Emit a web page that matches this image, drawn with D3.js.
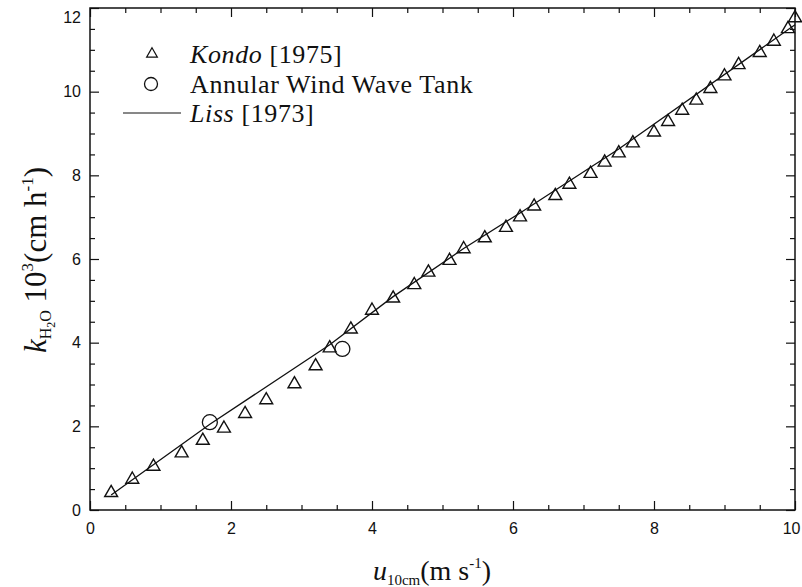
<!DOCTYPE html>
<html>
<head>
<meta charset="utf-8">
<script src="https://cdn.jsdelivr.net/npm/d3@7"></script>
<style>
  body { margin: 0; background: #fff; }
  .tick text { font-family: "Liberation Sans Narrow", "Liberation Sans", sans-serif; font-size: 16px; fill: #111; }
  .serif { font-family: "Liberation Serif", "DejaVu Serif", serif; fill: #111; }
</style>
</head>
<body>
<div id="chart"></div>
<script>
// Kondo [1975] points (u10cm in m/s, kH2O*10^3 in cm/h)
const kondoU = [0.3, 0.6, 0.9, 1.3, 1.6, 1.9, 2.2, 2.5, 2.9, 3.2, 3.4, 3.7, 4.0, 4.3, 4.6, 4.8, 5.1, 5.3, 5.6, 5.9,
                6.1, 6.3, 6.6, 6.8, 7.1, 7.3, 7.5, 7.7, 8.0, 8.2, 8.4, 8.6, 8.8, 9.0, 9.2, 9.5, 9.7, 9.9, 10.0];
const kondoK = [0.41, 0.73, 1.04, 1.36, 1.66, 1.95, 2.30, 2.63, 3.01, 3.44, 3.87, 4.32, 4.77, 5.06, 5.38, 5.68, 5.96, 6.24, 6.50, 6.75,
                7.00, 7.26, 7.51, 7.78, 8.04, 8.31, 8.53, 8.77, 9.03, 9.28, 9.55, 9.79, 10.07, 10.37, 10.64, 10.93, 11.20, 11.50, 11.76];

// Annular Wind Wave Tank
const tankU = [1.7, 3.58];
const tankK = [2.10, 3.85];

// Liss [1973] line
const lissU = [0.3, 1.7, 3.4, 4.3, 5.3, 6.1, 7.5, 10.0];
const lissK = [0.36, 2.05, 3.95, 5.10, 6.25, 7.10, 8.63, 11.6];

const xTicks = [0, 2, 4, 6, 8, 10];
const yTicks = [0, 2, 4, 6, 8, 10, 12];

const svgWidth = 802, svgHeight = 587;
const margin = { top: 8, right: 7, bottom: 77, left: 90 };
const chartWidth = svgWidth - margin.left - margin.right;
const chartHeight = svgHeight - margin.top - margin.bottom;

const svg = d3.select('#chart').append('svg')
    .attr('width', svgWidth)
    .attr('height', svgHeight);

const g = svg.append('g').attr('transform', `translate(${margin.left},${margin.top})`);

const x = d3.scaleLinear().domain([0, 10]).range([0, chartWidth]);
const y = d3.scaleLinear().domain([0, 12]).range([chartHeight, 0]);

const minorX = d3.range(0, 10.01, 0.5).filter(v => v % 2 !== 0);
const minorY = d3.range(0, 12.01, 0.5).filter(v => v % 2 !== 0);

// minor ticks on all four sides
function minor(axisFn, scale, vals, tr) {
  g.append('g').attr('transform', tr)
    .call(axisFn(scale).tickValues(vals).tickSize(-5).tickFormat(''))
    .call(s => s.select('.domain').remove());
}
minor(d3.axisBottom, x, minorX, `translate(0,${chartHeight})`);
minor(d3.axisTop, x, minorX, 'translate(0,0)');
minor(d3.axisLeft, y, minorY, 'translate(0,0)');
minor(d3.axisRight, y, minorY, `translate(${chartWidth},0)`);

// major ticks
const xAxisG = g.append('g').attr('transform', `translate(0,${chartHeight})`)
  .call(d3.axisBottom(x).tickValues(xTicks).tickSize(-9).tickPadding(13).tickFormat(d3.format('d')))
  .call(s => s.select('.domain').remove());
// last label sits against the page edge
xAxisG.selectAll('.tick text').filter(d => d === 10).attr('text-anchor', 'end').attr('x', 5);

const yAxisG = g.append('g')
  .call(d3.axisLeft(y).tickValues(yTicks).tickSize(-9).tickPadding(9).tickFormat(d3.format('d')))
  .call(s => s.select('.domain').remove());
yAxisG.selectAll('.tick text').filter(d => d === 12).attr('dy', '0.9em');

g.append('g')
  .call(d3.axisTop(x).tickValues(xTicks).tickSize(-9).tickFormat(''))
  .call(s => s.select('.domain').remove());
g.append('g').attr('transform', `translate(${chartWidth},0)`)
  .call(d3.axisRight(y).tickValues(yTicks).tickSize(-9).tickFormat(''))
  .call(s => s.select('.domain').remove());

g.selectAll('.tick line').attr('stroke', '#111').attr('stroke-width', 1.2);

// frame
g.append('rect')
  .attr('width', chartWidth).attr('height', chartHeight)
  .attr('fill', 'none').attr('stroke', '#111').attr('stroke-width', 1.5);

const plot = g.append('g');

// Liss line
const lissData = lissU.map((u, i) => [u, lissK[i]]);
plot.append('path')
  .datum(lissData)
  .attr('fill', 'none').attr('stroke', '#111').attr('stroke-width', 1.3)
  .attr('d', d3.line().x(d => x(d[0])).y(d => y(d[1])));

// Kondo triangles
const tri = d3.symbol().type(d3.symbolTriangle).size(72);
plot.selectAll('path.kondo')
  .data(kondoU.map((u, i) => [u, kondoK[i]]))
  .enter().append('path')
  .attr('class', 'kondo')
  .attr('transform', d => `translate(${x(d[0])},${y(d[1])})`)
  .attr('d', tri)
  .attr('fill', 'none').attr('stroke', '#111').attr('stroke-width', 1.4);

// Tank circles
plot.selectAll('circle.tank')
  .data(tankU.map((u, i) => [u, tankK[i]]))
  .enter().append('circle')
  .attr('class', 'tank')
  .attr('cx', d => x(d[0])).attr('cy', d => y(d[1]))
  .attr('r', 7.5)
  .attr('fill', 'none').attr('stroke', '#111').attr('stroke-width', 1.3);

// legend
svg.append('path')
  .attr('transform', 'translate(152,54)')
  .attr('d', d3.symbol().type(d3.symbolTriangle).size(50))
  .attr('fill', 'none').attr('stroke', '#111').attr('stroke-width', 1.2);
svg.append('circle').attr('cx', 151).attr('cy', 84).attr('r', 6.5)
  .attr('fill', 'none').attr('stroke', '#111').attr('stroke-width', 1.3);
svg.append('line').attr('x1', 123).attr('x2', 181).attr('y1', 113).attr('y2', 113)
  .attr('stroke', '#111').attr('stroke-width', 1);

const legStyle = s => s.attr('class', 'serif').attr('x', 190).attr('font-size', 26).attr('letter-spacing', 0.6);
const leg1 = svg.append('text').call(legStyle).attr('y', 63);
leg1.append('tspan').attr('font-style', 'italic').text('Kondo');
leg1.append('tspan').text(' [1975]');
svg.append('text').call(legStyle).attr('y', 93).text('Annular Wind Wave Tank');
const leg3 = svg.append('text').call(legStyle).attr('y', 122);
leg3.append('tspan').attr('font-style', 'italic').text('Liss');
leg3.append('tspan').text(' [1973]');

// x axis title
const xt = svg.append('text').attr('class', 'serif')
  .attr('x', 432).attr('y', 580).attr('text-anchor', 'middle').attr('font-size', 28);
xt.append('tspan').attr('font-style', 'italic').text('u');
xt.append('tspan').attr('font-size', 15).attr('dy', 5).text('10cm');
xt.append('tspan').attr('dy', -5).text('(m s');
xt.append('tspan').attr('font-size', 15).attr('dy', -12).text('-1');
xt.append('tspan').attr('dy', 12).text(')');

// y axis title
const yt = svg.append('text').attr('class', 'serif')
  .attr('transform', 'translate(46,260) rotate(-90)')
  .attr('text-anchor', 'middle').attr('font-size', 31);
yt.append('tspan').attr('font-style', 'italic').text('k');
yt.append('tspan').attr('font-size', 16).attr('dy', 5).text('H');
yt.append('tspan').attr('font-size', 12).attr('dy', 4).text('2');
yt.append('tspan').attr('font-size', 16).attr('dy', -4).text('O');
yt.append('tspan').attr('dy', -5).text(' 10');
yt.append('tspan').attr('font-size', 17).attr('dy', -13).text('3');
yt.append('tspan').attr('dy', 13).text('(cm h');
yt.append('tspan').attr('font-size', 17).attr('dy', -13).text('-1');
yt.append('tspan').attr('dy', 13).text(')');
</script>
</body>
</html>
